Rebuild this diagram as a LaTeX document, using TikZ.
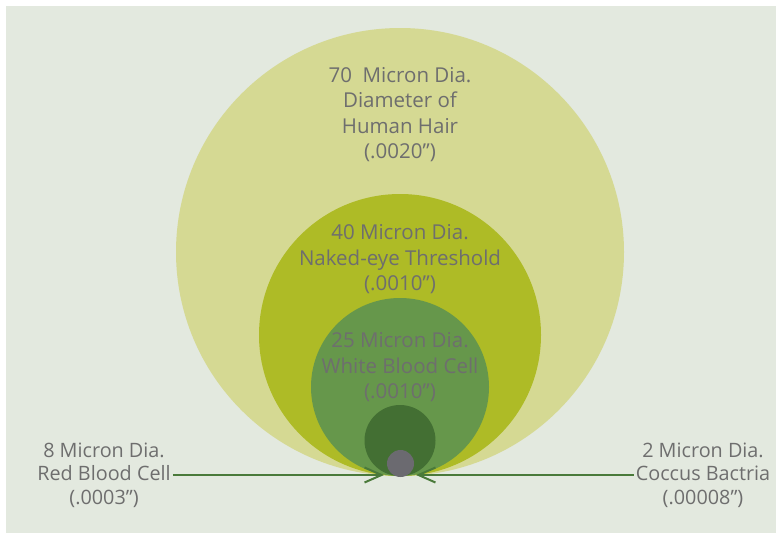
\documentclass[tikz,border=0pt]{standalone}
\usepackage{fontspec}
\setmainfont{Open Sans}
\usetikzlibrary{arrows.meta}
\definecolor{bgc}{HTML}{E3E9DF}
\definecolor{c70}{HTML}{D5D993}
\definecolor{c40}{HTML}{AEBB26}
\definecolor{c25}{HTML}{66974B}
\definecolor{c8}{HTML}{436F33}
\definecolor{c2}{HTML}{6B6A70}
\definecolor{txt}{HTML}{6E6E6E}
\definecolor{arr}{HTML}{4A7A3A}
\tikzset{
  lbl/.style={align=center, text=txt, font=\fontsize{20.5}{25.5}\selectfont, inner sep=0pt},
  side/.style={align=center, text=txt, font=\fontsize{19.8}{23.5}\selectfont, inner sep=0pt},
  conn/.style={draw=arr, line width=2pt, -{Straight Barb[length=17pt,width=15pt,line width=2pt]}}
}
\begin{document}
\begin{tikzpicture}[x=1pt,y=-1pt]
\useasboundingbox (0,0) rectangle (776,533);
\fill[bgc] (6,6) rectangle (776,533);
\fill[c70] (400,252) circle[radius=224pt];
\fill[c40] (400,335) circle[radius=141pt];
\fill[c25] (400,387) circle[radius=89pt];
\fill[c8] (400,440.5) circle[radius=35.5pt];
\fill[c2] (400.5,463.5) circle[radius=13.5pt];
\node[lbl] (t70) at (400,114.5) {70\ \ Micron Dia.\\Diameter of\\Human Hair\\(.0020”)};
\node[lbl] (t40) at (400,259.5) {40 Micron Dia.\\Naked-eye Threshold\\(.0010”)};
\node[lbl] (t25) at (400,367.5) {25 Micron Dia.\\White Blood Cell\\(.0010”)};
\node[side] (tl) at (104,475) {8 Micron Dia.\\Red Blood Cell\\(.0003”)};
\node[side] (tr) at (703,475) {2 Micron Dia.\\Coccus Bactria\\(.00008”)};
\coordinate (tipL) at (384,475);
\coordinate (tipR) at (416,475);
\draw[conn] ([xshift=2pt]tl.east) -- (tipL);
\draw[conn] ([xshift=-2pt]tr.west) -- (tipR);
\end{tikzpicture}
\end{document}
